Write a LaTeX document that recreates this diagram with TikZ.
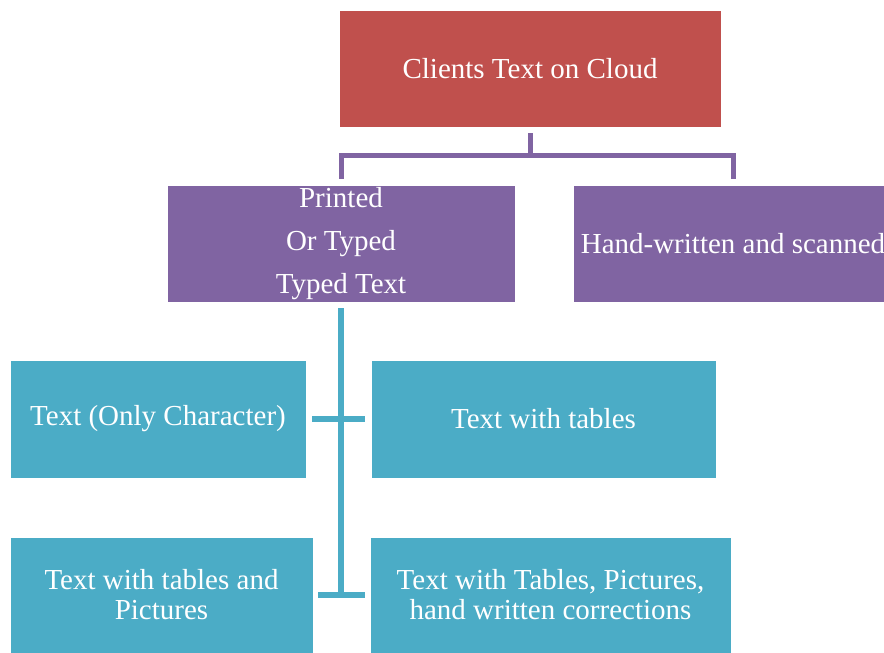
\documentclass[tikz,border=0pt]{standalone}
\usepackage{fontspec}
\setmainfont{Liberation Serif}
\definecolor{cloudred}{HTML}{C0504D}
\definecolor{typepurple}{HTML}{8064A2}
\definecolor{sortteal}{HTML}{4BACC6}
\newcommand {\blk}[7] {\node[box, fill=#2, minimum width=#5, minimum height=#6] (#1) at (#3,#4) {#7};}

\begin{document}
\begin{tikzpicture}[x=1pt, y=-1pt,
        box/.style={rectangle, inner sep=0pt, draw=white, line width=0.6pt, text=white, align=center,
                    font=\fontsize{29}{30}\selectfont},
        pline/.style={draw=typepurple, line width=5pt},
        tline/.style={draw=sortteal, line width=6pt}]
        \useasboundingbox (0,0) rectangle (884,653);
        \clip (0,0) rectangle (884,653);
        \blk{top}{cloudred}{530}{68.5}{382pt}{117pt}{Clients Text on Cloud}
        \blk{prn}{typepurple}{341}{243.5}{348pt}{117pt}{Printed\\[13pt] Or Typed\\[13pt] Typed Text}
        \blk{hnd}{typepurple}{733}{243.5}{320pt}{117pt}{Hand-written and scanned}
        \blk{chr}{sortteal}{158}{419}{296pt}{118pt}{Text (Only Character)}
        \blk{tab}{sortteal}{543.5}{419}{345pt}{118pt}{Text with tables}
        \blk{pic}{sortteal}{161.5}{595}{303pt}{116pt}{Text with tables and\\Pictures}
        \blk{cor}{sortteal}{550.5}{595}{361pt}{116pt}{Text with Tables, Pictures,\\hand written corrections}
        % purple tree
        \coordinate (mid) at (530,155.5);
        \draw[pline, shorten <=6pt] (top.south) -- (mid);
        \draw[pline, shorten <=6pt, shorten >=6pt] (prn.north) |- (mid) -| (hnd.north);
        % teal tree
        \draw[tline, shorten <=6pt] (prn.south) -- (prn.south |- pic.east);
        \draw[tline, shorten <=6pt, shorten >=6pt] (chr.east) -- (tab.west);
        \draw[tline, shorten <=5pt, shorten >=5pt] (pic.east) -- (cor.west);
    \end{tikzpicture}
\end{document}
